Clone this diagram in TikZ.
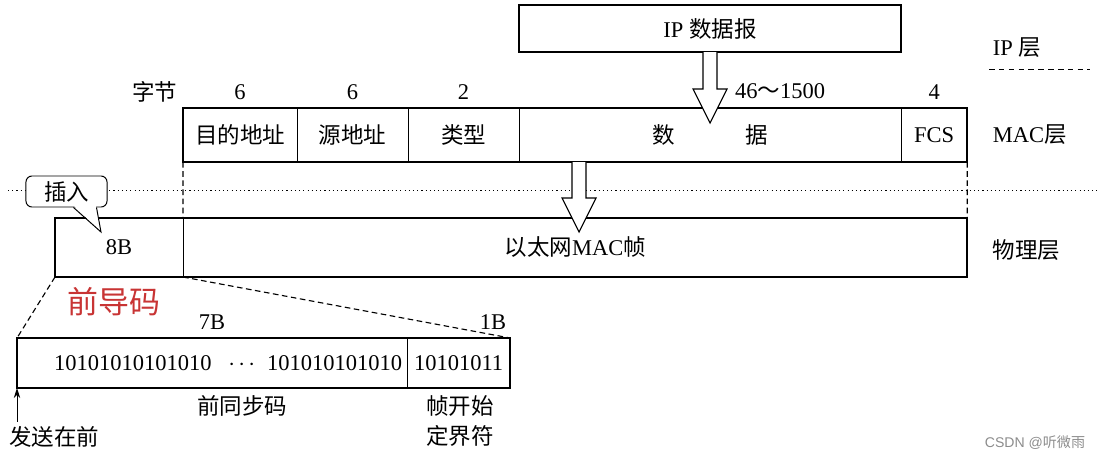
\documentclass[tikz,border=0pt]{standalone}
\usepackage{fontspec}
\setmainfont{Liberation Serif}
\newfontfamily\cjk{Noto Sans CJK SC}
\newfontfamily\wmfont{Liberation Sans}
\usetikzlibrary{
  arrows.meta,
  positioning,  % Function "of" (e.g. [right=0pt of x])
  calc,         % Calculations $...$
}
\newcommand{\zh}[1]{{\cjk #1}}
% Hollow block arrow from the bottom of a node down to a tip
\newcommand{\hollowarrow}[2]{
  \draw[hollow] ($(#1.south -| #2)+(-7,0)$) -- ($(#2)+(-7,-34)$) -- ($(#2)+(-17,-34)$) -- (#2)
    -- ($(#2)+(17,-34)$) -- ($(#2)+(7,-34)$) -- ($(#1.south -| #2)+(7,0)$);
}
\definecolor{leadred}{RGB}{200,52,52}
\tikzset{
  font=\fontsize{16pt}{19pt}\selectfont,
  semithick,
  >={Stealth[length=2.5mm,width=1.6mm]},
  field/.style={
    draw,
    line width=0.6pt,
    inner sep=0mm,
    outer sep=0mm,
    rectangle
  },
  mac field/.style={
    field,
    minimum height=1.35cm
  },
  phy field/.style={
    field,
    minimum height=1.475cm
  },
  pre field/.style={
    field,
    minimum height=1.25cm
  },
  frame line/.style={
    line width=1.2pt
  },
  hollow/.style={
    draw,
    fill=white,
    line width=0.8pt
  },
  guide/.style={
    dash pattern=on 4pt off 2.5pt,
    line width=0.8pt
  },
  layer label/.style={
    anchor=west
  },
  layer line/.style={
    dash pattern=on 4pt off 3pt,
    line width=0.7pt
  },
  dot line/.style={
    dash pattern=on 0.8pt off 2.2pt,
    line width=0.8pt
  },
  bubble/.style={
    draw,
    fill=white,
    rounded corners=0.15cm,
    line width=0.7pt,
    inner sep=0mm
  }
}

\begin{document}
\begin{tikzpicture}[x=0.025cm,y=-0.025cm]
\useasboundingbox (0,0) rectangle (1100,460);

% layers
\coordinate (dotl) at (8,190.7);
\coordinate (dotr) at (1097,190.7);
\draw[dot line] (dotl) -- (dotr);
\coordinate (sepl) at (989,69);
\coordinate (sepr) at (1090,69);
\draw[layer line] (sepl) -- (sepr);
\node[layer label] (lip)  at (988,48)  {IP \zh{层}};
\node[layer label] (lmac) at (988,135) {MAC\zh{层}};
\node[layer label] (lphy) at (988,250) {\zh{物理层}};

% IP datagram
\node[field, frame line, minimum width=9.55cm, minimum height=1.175cm] (ip) at (710,28.5) {IP \zh{数据报}};

% MAC frame
\node[mac field, minimum width=2.85cm, anchor=north west] (dst) at (183,108) {\zh{目的地址}};
\node[mac field, minimum width=2.775cm, right=0pt of dst]  (src)  {\zh{源地址}};
\node[mac field, minimum width=2.775cm, right=0pt of src]  (type) {\zh{类型}};
\node[mac field, minimum width=9.55cm,  right=0pt of type] (data) {\zh{数\hspace{1.78cm}据}};
\node[mac field, minimum width=1.65cm,  right=0pt of data] (fcs)  {FCS};
\draw[frame line] (dst.north west) rectangle (fcs.south east);

\node[anchor=east] (bytes) at (182,92) {\zh{字节}};
\node (ndst)  at (dst.north |- bytes)  {6};
\node (nsrc)  at (src.north |- bytes)  {6};
\node (ntype) at (type.north |- bytes) {2};
\node (ndata) at (780,91)              {46\zh{～}1500};
\node (nfcs)  at (fcs.north |- bytes)  {4};

% physical frame
\node[phy field, minimum width=3.2cm, anchor=north west] (pre) at (55,218) {8B};
\node[phy field, minimum width=19.6cm, right=0pt of pre] (phymac) {\zh{以太网}MAC\zh{帧}};
\draw[frame line] (pre.north west) rectangle (phymac.south east);

\draw[guide] (dst.south west) -- (pre.north east);
\draw[guide] (fcs.south east) -- (phymac.north east);

% block arrows
\coordinate (iptip) at (710,123);
\coordinate (mactip) at (579,232);
\hollowarrow{ip}{iptip}
\hollowarrow{data}{mactip}

% callout
\node[bubble, minimum width=2.025cm, minimum height=0.775cm] (ins) at (66.5,191.5) {\zh{插入}};
\coordinate (instip) at (101,232);
\fill[white] ($(ins.south west)+(48.5,-1.5)$) -- (instip) -- ($(ins.south west)+(70.5,-1.5)$) -- cycle;
\draw[line width=0.7pt] ($(ins.south west)+(48,0)$) -- (instip) -- ($(ins.south west)+(71,0)$);

% preamble
\node[text=leadred, font=\fontsize{22pt}{26pt}\selectfont] (leadlabel) at (114,302) {\zh{前导码}};
\node[pre field, minimum width=9.75cm, text width=9.5cm, align=right, anchor=north west] (sync) at (17,338)
  {10101010101010\hspace{0.42cm}$\cdot\!\cdot\!\cdot$\hspace{0.3cm}101010101010};
\node[pre field, minimum width=2.575cm, right=0pt of sync] (sfd) {10101011};
\draw[frame line] (sync.north west) rectangle (sfd.south east);

\draw[guide] (pre.south west) -- (sync.north west);
\draw[guide] (pre.south east) -- (sfd.north east);

\node (n7) at (sync.north |- 0,322) {7B};
\node (n1) at (493,322) {1B};
\node (synclabel) at (242,406) {\zh{前同步码}};
\node[align=center, font=\fontsize{16pt}{21pt}\selectfont] (sfdlabel) at (460,421) {\zh{帧开始}\\\zh{定界符}};
\node (send) at (54,437) {\zh{发送在前}};
\draw[->, line width=0.7pt] (send.north -| sync.south west) -- (sync.south west);

% watermark
\node[text=black!45, font=\wmfont\fontsize{10pt}{12pt}\selectfont] (wm) at (1035,443) {CSDN @\zh{听微雨}};
\end{tikzpicture}
\end{document}
